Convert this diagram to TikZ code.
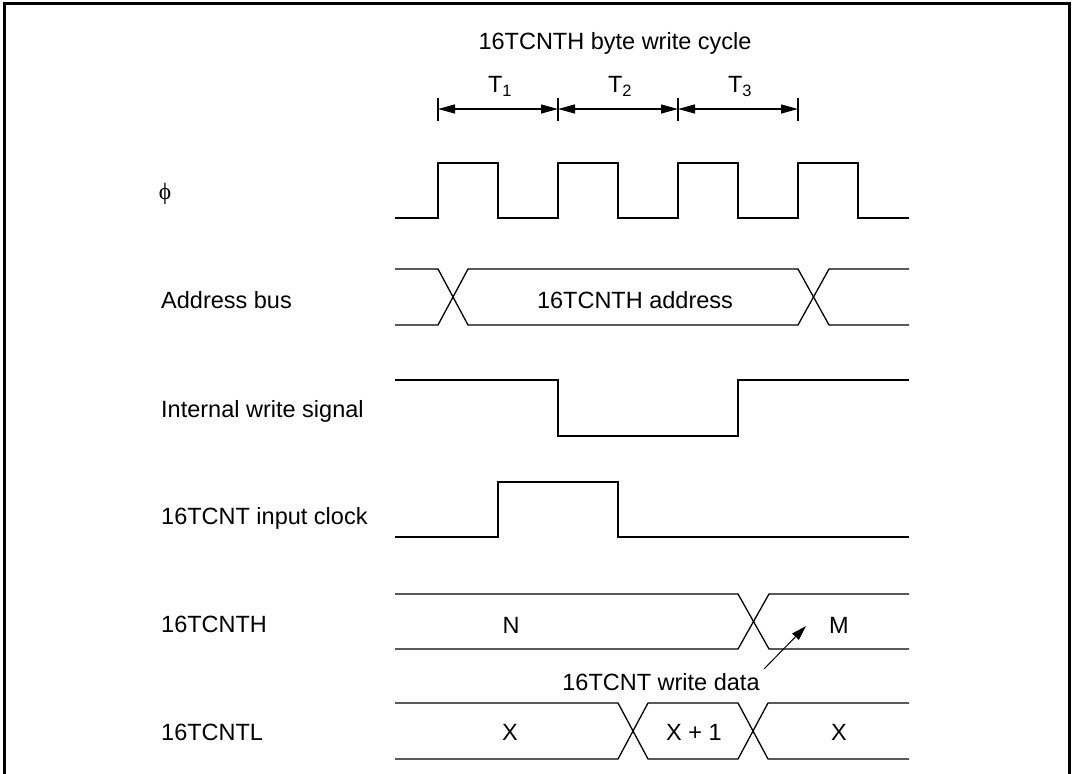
\documentclass[tikz,border=0pt]{standalone}
\usepackage{fontspec}
\setmainfont{Liberation Sans}
\newfontfamily\phifont{Liberation Serif}
\usetikzlibrary{arrows.meta}
\tikzset{
  sig/.style={line width=1.3pt, line join=miter},
  txt/.style={font=\fontsize{23.5}{28}\selectfont, inner sep=0pt, anchor=base},
  lbl/.style={txt, anchor=base west},
  dim/.style={line width=1.2pt, {Triangle[length=17pt,width=9pt]}-{Triangle[length=17pt,width=9pt]}},
  tick/.style={line width=1.2pt},
  frame/.style={line width=3pt},
  ptr/.style={line width=1pt, -{Triangle[length=15pt,width=9pt]}}
}
\begin{document}
\begin{tikzpicture}[x=1pt,y=-1pt]
\useasboundingbox (0,0) rectangle (1075,773);
% frame (bottom edge cut off)
\draw[frame] (4,800) -- (4,4) -- (1069,4) -- (1069,800);

% title
\node[txt] (title) at (615,50) {16TCNTH byte write cycle};

% T states
\coordinate (t0) at (438,109);
\coordinate (t1) at (558,109);
\coordinate (t2) at (678,109);
\coordinate (t3) at (798,109);
\foreach \c in {t0,t1,t2,t3} \draw[tick] ([yshift=-12pt]\c) -- ([yshift=11pt]\c);
\draw[dim] (t0) -- (t1);
\draw[dim] (t1) -- (t2);
\draw[dim] (t2) -- (t3);
\node[txt] (T1) at (500,93) {T\textsubscript{1}};
\node[txt] (T2) at (620,93) {T\textsubscript{2}};
\node[txt] (T3) at (740,93) {T\textsubscript{3}};

% labels
\node[font=\fontsize{23.5}{28}\selectfont\phifont, inner sep=0pt] (lphi) at (165,194) {ϕ};
\node[lbl] (laddr) at (161,308) {Address bus};
\node[lbl] (lwr) at (161,417) {Internal write signal};
\node[lbl] (lclk) at (161,524) {16TCNT input clock};
\node[lbl] (lh) at (161,632) {16TCNTH};
\node[lbl] (ll) at (161,740) {16TCNTL};

% phi clock
\draw[sig] (395,218) -- (438,218) -- (438,163) -- (498,163) -- (498,218)
  -- (558,218) -- (558,163) -- (618,163) -- (618,218)
  -- (678,218) -- (678,163) -- (738,163) -- (738,218)
  -- (798,218) -- (798,163) -- (858,163) -- (858,218) -- (909,218);

% address bus
\draw[sig] (395,269) -- (438,269) -- (468,325) -- (798,325) -- (829,269) -- (909,269);
\draw[sig] (395,325) -- (438,325) -- (468,269) -- (798,269) -- (829,325) -- (909,325);
\node[txt] (vaddr) at (635,308) {16TCNTH address};

% internal write signal
\draw[sig] (395,380) -- (558,380) -- (558,436) -- (738,436) -- (738,380) -- (909,380);

% 16TCNT input clock
\draw[sig] (395,537) -- (498,537) -- (498,482) -- (618,482) -- (618,537) -- (909,537);

% 16TCNTH
\draw[sig] (395,594) -- (738,594) -- (769,649) -- (909,649);
\draw[sig] (395,649) -- (738,649) -- (769,594) -- (909,594);
\node[txt] (vN) at (511,633) {N};
\node[txt] (vM) at (839,633) {M};

% write data pointer
\node[txt] (wd) at (661,690) {16TCNT write data};
\coordinate (wdtail) at (764,669);
\coordinate (wdhead) at (806,626);
\draw[ptr] (wdtail) -- (wdhead);

% 16TCNTL
\draw[sig] (395,703) -- (618,703) -- (648,759) -- (738,759) -- (768,703) -- (909,703);
\draw[sig] (395,759) -- (618,759) -- (648,703) -- (738,703) -- (768,759) -- (909,759);
\node[txt] (vX1) at (510,740) {X};
\node[txt] (vX2) at (694,740) {X + 1};
\node[txt] (vX3) at (839,740) {X};
\end{tikzpicture}
\end{document}
